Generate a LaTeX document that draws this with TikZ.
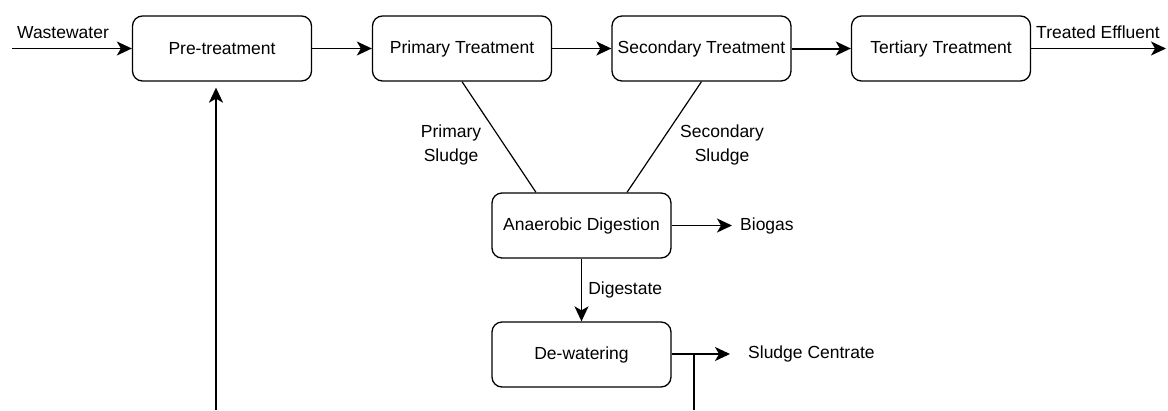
\documentclass[tikz,border=0pt]{standalone}
\usepackage{fontspec}
\setmainfont{Liberation Sans}
\usetikzlibrary{arrows.meta}
\begin{document}
\begin{tikzpicture}[x=1pt,y=-1pt,
	every node/.style={font=\fontsize{17.5}{24}\selectfont},
	box/.style={draw,rounded corners=10pt,line width=1.3pt,minimum width=179pt,minimum height=65pt,inner sep=0pt},
	lbl/.style={draw=none,inner sep=0pt,align=center},
	flow/.style={-{Stealth[length=15pt,width=14pt,inset=4pt]},line width=1.5pt},
	pipe/.style={line width=1.2pt}]
	
	\useasboundingbox (0,0) rectangle (1168,410);
	
	\node[box] (pre) at (222,48.5) {Pre-treatment};
	\node[box] (prim) at (462,48.5) {Primary Treatment};
	\node[box] (sec) at (701.5,48.5) {Secondary Treatment};
	\node[box] (ter) at (941,48.5) {Tertiary Treatment};
	\node[box] (dig) at (581.5,225.5) {Anaerobic Digestion};
	\node[box] (dew) at (581.5,354.5) {De-watering};
	
	\node[lbl] (ww) at (63,33) {Wastewater};
	\node[lbl] (eff) at (1098,32) {Treated Effluent};
	\node[lbl] (psl) at (451,145) {Primary\\Sludge};
	\node[lbl] (ssl) at (722,145) {Secondary\\Sludge};
	\node[lbl,anchor=west] (gas) at (740,225.5) {Biogas};
	\node[lbl,anchor=west] (centrate) at (748,354) {Sludge Centrate};
	
	\coordinate (in) at (12,48.5);
	\coordinate (out) at (1166,48.5);
	\coordinate (ret) at (216,410);
	\coordinate (jn) at (694,354);
	\coordinate (drop) at (694,410);
	
	\draw[flow] (in) -- (pre);
	\draw[flow] (pre) -- (prim);
	\draw[flow] (prim) -- (sec);
	\draw[flow,line width=2pt] (sec) -- (ter);
	\draw[flow] (ter) -- (out);
	
	\draw[pipe] (prim.south) -- ([xshift=-45.5pt]dig.north);
	\draw[pipe] (sec.south) -- ([xshift=45.5pt]dig.north);
	
	\draw[flow,shorten >=8pt] (dig) -- (gas.west);
	\draw[flow] (dig) -- node[lbl,right=6pt] {Digestate} (dew);
	\draw[flow,shorten >=18pt] (dew.east |- centrate.west) -- (centrate.west);
	\draw[pipe,line width=1.6pt] (jn) -- (drop);
	
	\draw[flow,line width=2pt,shorten >=6pt] (ret) -- (ret |- pre.south);

\end{tikzpicture}
\end{document}
